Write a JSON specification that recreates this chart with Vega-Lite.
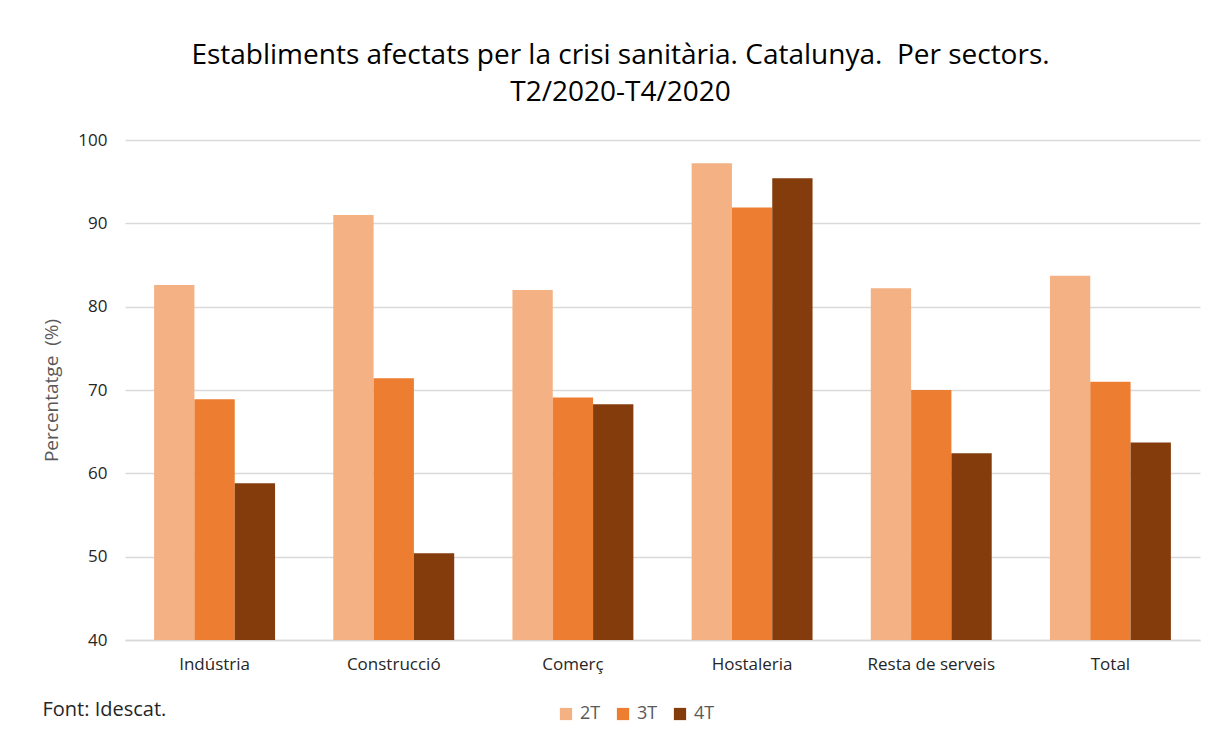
{
  "$schema": "https://vega.github.io/schema/vega-lite/v6.json",
  "width": 1075,
  "height": 500,
  "autosize": {"type": "none"},
  "padding": {"left": 125, "top": 140, "right": 23, "bottom": 95},
  "background": "white",
  "title": {
    "text": ["Establiments afectats per la crisi sanitària. Catalunya.\u00a0 Per sectors.", "T2/2020-T4/2020"],
    "font": "Open Sans",
    "fontSize": 28,
    "fontWeight": "normal",
    "color": "#000000",
    "lineHeight": 37,
    "anchor": "middle",
    "dx": -42,
    "offset": 24
  },
  "data": {
    "values": [
      {"sector": "Indústria", "trimestre": "2T", "valor": 82.6},
      {"sector": "Indústria", "trimestre": "3T", "valor": 68.9},
      {"sector": "Indústria", "trimestre": "4T", "valor": 58.8},
      {"sector": "Construcció", "trimestre": "2T", "valor": 91.0},
      {"sector": "Construcció", "trimestre": "3T", "valor": 71.4},
      {"sector": "Construcció", "trimestre": "4T", "valor": 50.4},
      {"sector": "Comerç", "trimestre": "2T", "valor": 82.0},
      {"sector": "Comerç", "trimestre": "3T", "valor": 69.1},
      {"sector": "Comerç", "trimestre": "4T", "valor": 68.3},
      {"sector": "Hostaleria", "trimestre": "2T", "valor": 97.2},
      {"sector": "Hostaleria", "trimestre": "3T", "valor": 91.9},
      {"sector": "Hostaleria", "trimestre": "4T", "valor": 95.4},
      {"sector": "Resta de serveis", "trimestre": "2T", "valor": 82.2},
      {"sector": "Resta de serveis", "trimestre": "3T", "valor": 70.0},
      {"sector": "Resta de serveis", "trimestre": "4T", "valor": 62.4},
      {"sector": "Total", "trimestre": "2T", "valor": 83.7},
      {"sector": "Total", "trimestre": "3T", "valor": 71.0},
      {"sector": "Total", "trimestre": "4T", "valor": 63.7}
    ]
  },
  "mark": {"type": "bar", "clip": true},
  "encoding": {
    "x": {
      "field": "sector",
      "type": "nominal",
      "sort": null,
      "scale": {"paddingInner": 0.325, "paddingOuter": 0.1625},
      "axis": {
        "title": "Font: Idescat.",
        "titleX": -83,
        "titleY": 75,
        "titleAlign": "left",
        "titleBaseline": "alphabetic",
        "titleFont": "Open Sans",
        "titleFontSize": 20,
        "titleFontWeight": "normal",
        "titleColor": "#262626",
        "labelAngle": 0,
        "labelFont": "Open Sans",
        "labelFontSize": 17,
        "labelColor": "#262626",
        "labelPadding": 16,
        "ticks": false,
        "domainColor": "#d9d9d9",
        "domainWidth": 1.5
      }
    },
    "xOffset": {"field": "trimestre", "type": "nominal", "sort": ["2T", "3T", "4T"], "scale": {"paddingInner": 0, "paddingOuter": 0}},
    "y": {
      "field": "valor",
      "type": "quantitative",
      "scale": {"domain": [40, 100], "zero": false, "nice": false},
      "axis": {
        "title": "Percentatge\u00a0 (%)",
        "titleFont": "Open Sans",
        "titleFontSize": 19,
        "titleFontWeight": "normal",
        "titleColor": "#595959",
        "titlePadding": 16,
        "values": [40, 50, 60, 70, 80, 90, 100],
        "labelFont": "Open Sans",
        "labelFontSize": 17,
        "labelColor": "#262626",
        "labelPadding": 18,
        "ticks": false,
        "domain": false,
        "gridColor": "#d9d9d9",
        "gridWidth": 1.5
      }
    },
    "color": {
      "field": "trimestre",
      "type": "nominal",
      "scale": {"domain": ["2T", "3T", "4T"], "range": ["#F4B183", "#ED7D31", "#843C0C"]},
      "legend": {
        "title": null,
        "orient": "none",
        "direction": "horizontal",
        "legendX": 432,
        "legendY": 565,
        "symbolType": "square",
        "symbolSize": 150,
        "symbolStrokeWidth": 0,
        "labelFont": "Open Sans",
        "labelFontSize": 18,
        "labelColor": "#595959",
        "labelOffset": 5,
        "columnPadding": 13
      }
    }
  },
  "config": {
    "view": {"stroke": null}
  }
}
